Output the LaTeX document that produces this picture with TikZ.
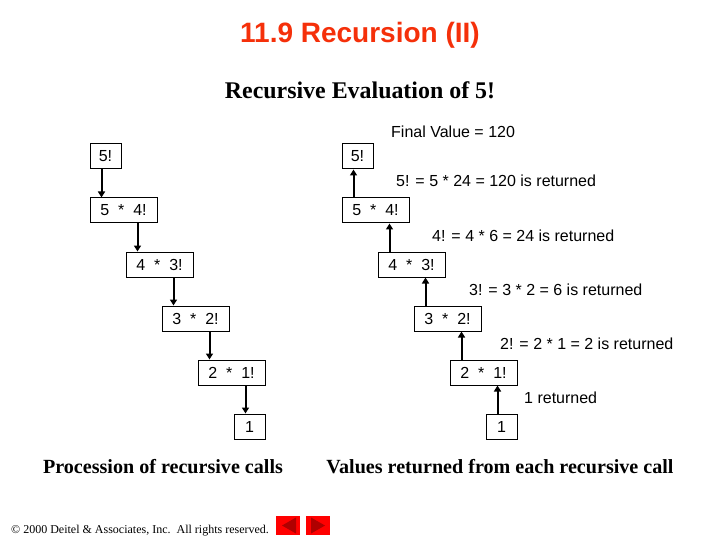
\documentclass[tikz,border=0pt]{standalone}
\usepackage{xcolor}
\usepackage{fontspec}
\setmainfont{Liberation Serif}
\setsansfont{Liberation Sans}
\usetikzlibrary{arrows.meta,positioning}
\definecolor{Title}{HTML}{F5300A}
\definecolor{Btn}{HTML}{FF0000}
\definecolor{Dark}{HTML}{B00000}

\begin{document}
\begin{tikzpicture}[x=1pt,y=-1pt,
    n/.style={draw=black,line width=1pt,fill=white,minimum height=25pt,inner sep=0pt,font=\sffamily\fontsize{16}{18}\selectfont},
    wide/.style={n,minimum width=67pt},
    small/.style={n,minimum width=31pt},
    a/.style={-{Triangle[length=6pt,width=7pt]},line width=2pt,draw=black},
    lab/.style={inner sep=0pt,anchor=base west,font=\sffamily\fontsize{16}{18}\selectfont},
    captxt/.style={inner sep=0pt,anchor=base,font=\bfseries\fontsize{20.1}{22}\selectfont},
    btn/.style={fill=Btn,draw=none,minimum width=24pt,minimum height=19pt,inner sep=0pt}]
    \useasboundingbox (0,0) rectangle (720,540);
    \fill[white] (0,0) rectangle (720,540);
    \node[anchor=base,inner sep=0pt,text=Title,font=\sffamily\bfseries\fontsize{28}{30}\selectfont] (title) at (360,43) {11.9 Recursion (II)};
    \node[anchor=base,inner sep=0pt,font=\bfseries\fontsize{23.9}{25}\selectfont] (sub) at (360,99) {Recursive Evaluation of 5!};
    % left column
    \node[small] (l1) at (105.5,156.5) {5!\hspace{3pt}};
    \node[wide] (l2) at (123.5,210.5) {5\ \ *\ \ 4!\hspace{6pt}};
    \node[wide] (l3) at (159.5,264.5) {4\ \ *\ \ 3!\hspace{6pt}};
    \node[wide] (l4) at (195.5,318.5) {3\ \ *\ \ 2!\hspace{6pt}};
    \node[wide] (l5) at (231.5,372.5) {2\ \ *\ \ 1!\hspace{6pt}};
    \node[small] (l6) at (249.5,426.5) {1};
    \draw[a] ([xshift=12pt]l2.north west |- l1.south) -- ([xshift=12pt]l2.north west);
    \draw[a] ([xshift=12pt]l3.north west |- l2.south) -- ([xshift=12pt]l3.north west);
    \draw[a] ([xshift=12pt]l4.north west |- l3.south) -- ([xshift=12pt]l4.north west);
    \draw[a] ([xshift=12pt]l5.north west |- l4.south) -- ([xshift=12pt]l5.north west);
    \draw[a] ([xshift=12pt]l6.north west |- l5.south) -- ([xshift=12pt]l6.north west);
    % right column
    \node[small] (r1) at (357.5,156.5) {5!\hspace{3pt}};
    \node[wide] (r2) at (375.5,210.5) {5\ \ *\ \ 4!\hspace{6pt}};
    \node[wide] (r3) at (411.5,264.5) {4\ \ *\ \ 3!\hspace{6pt}};
    \node[wide] (r4) at (447.5,318.5) {3\ \ *\ \ 2!\hspace{6pt}};
    \node[wide] (r5) at (483.5,372.5) {2\ \ *\ \ 1!\hspace{6pt}};
    \node[small] (r6) at (501.5,426.5) {1};
    \draw[a] ([xshift=12pt]r2.north west) -- ([xshift=12pt]r2.north west |- r1.south);
    \draw[a] ([xshift=12pt]r3.north west) -- ([xshift=12pt]r3.north west |- r2.south);
    \draw[a] ([xshift=12pt]r4.north west) -- ([xshift=12pt]r4.north west |- r3.south);
    \draw[a] ([xshift=12pt]r5.north west) -- ([xshift=12pt]r5.north west |- r4.south);
    \draw[a] ([xshift=12pt]r6.north west) -- ([xshift=12pt]r6.north west |- r5.south);
    \node[lab] (v0) at (391,138) {Final Value = 120};
    \node[lab] (v1) at (396,187) {5! = 5 * 24 = 120 is returned};
    \node[lab] (v2) at (432,241) {4! = 4 * 6 = 24 is returned};
    \node[lab] (v3) at (469,295) {3! = 3 * 2 = 6 is returned};
    \node[lab] (v4) at (500,349) {2! = 2 * 1 = 2 is returned};
    \node[lab] (v5) at (524,403) {1 returned};
    \node[captxt] (cl) at (163,473) {Procession of recursive calls};
    \node[captxt] (cr) at (500,473) {Values returned from each recursive call};
    \node[anchor=base west,inner sep=0pt,font=\fontsize{12}{14}\selectfont] (copy) at (11,533) {\textcopyright\ 2000 Deitel \& Associates, Inc.\ \ All rights reserved.};
    \node[btn] (prev) at (288,525.5) {};
    \node[btn] (next) at (318,525.5) {};
    \fill[Dark] (282,525.5) -- (296,517.5) -- (296,533.5) -- cycle;
    \fill[Dark] (325,525.5) -- (311,517.5) -- (311,533.5) -- cycle;
  \end{tikzpicture}
\end{document}
